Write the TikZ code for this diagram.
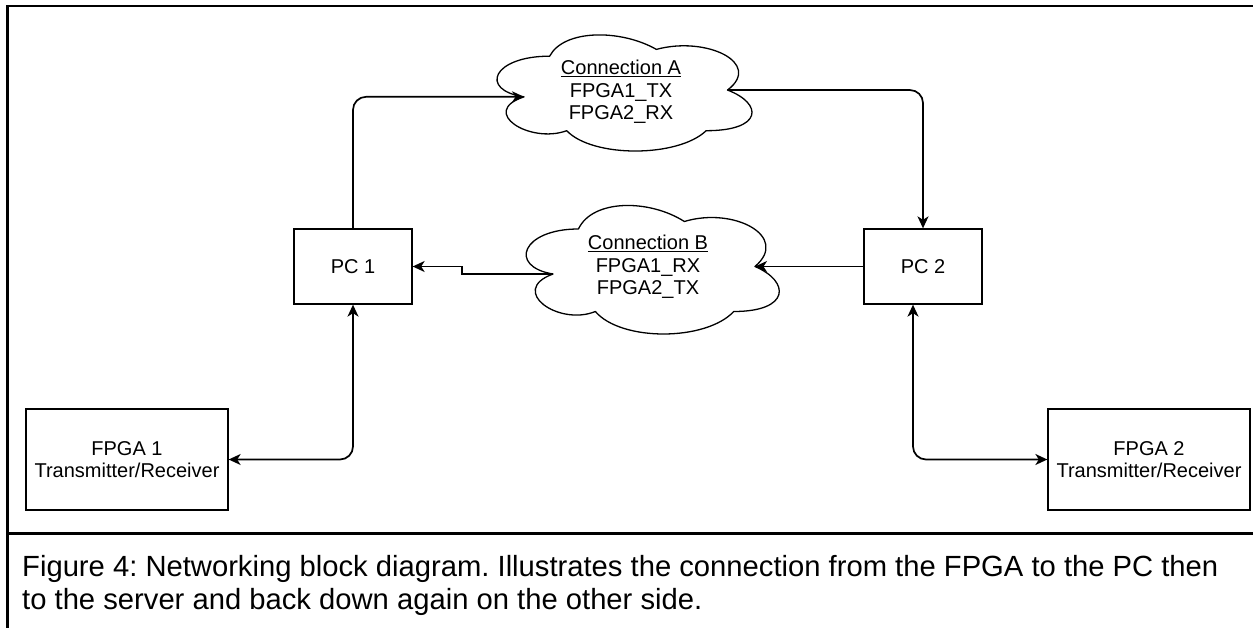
\documentclass[tikz,border=0pt]{standalone}
\usepackage{fontspec}
\setmainfont{Liberation Sans}
\usetikzlibrary{arrows.meta}

\begin{document}
\begin{tikzpicture}[x=1pt,y=-1pt,
  box/.style={draw, line width=1.3pt, inner sep=0pt, align=center,
    font=\fontsize{20}{22.5}\selectfont},
  pcbox/.style={box, minimum width=118pt, minimum height=75pt},
  fpgabox/.style={box, minimum width=202pt, minimum height=101pt},
  cloudtext/.style={inner sep=0pt, align=center,
    font=\fontsize{20}{22.5}\selectfont},
  tip/.tip={Stealth[length=12pt,width=11pt,inset=3.5pt]},
  link/.style={line width=1.7pt, rounded corners=13pt, -tip},
  duplex/.style={link, tip-tip},
  frame/.style={line width=2.5pt},
  % cloud outline in a unit box (x right, y down), scaled by the pic's options
  netcloud/.pic={
    \draw[line width=1.3pt, line join=round]
      (0.25,0.25) .. controls (0.05,0.25) and (0,0.5) .. (0.16,0.55)
      .. controls (0,0.66) and (0.18,0.9) .. (0.31,0.8)
      .. controls (0.4,1) and (0.7,1) .. (0.8,0.8)
      .. controls (1,0.8) and (1,0.6) .. (0.875,0.5)
      .. controls (1,0.3) and (0.8,0.1) .. (0.625,0.2)
      .. controls (0.5,0.05) and (0.3,0.05) .. (0.25,0.25) -- cycle;
    \coordinate (-w) at (0.16,0.55);
    \coordinate (-e) at (0.875,0.5);
  }]

\useasboundingbox (0,0) rectangle (1253,628);

% outer frame and caption divider
\draw[frame] (7.5,628) -- (7.5,6) -- (1253,6);
\draw[frame] (7.5,533.5) -- (1253,533.5);

% blocks
\node[pcbox] (pc1) at (353,266.5) {PC 1};
\node[pcbox] (pc2) at (923,266.5) {PC 2};
\node[fpgabox] (fpga1) at (127,459.5) {FPGA 1\\Transmitter/Receiver};
\node[fpgabox] (fpga2) at (1149,459.5) {FPGA 2\\Transmitter/Receiver};

% network connections
\pic (cA) [shift={(478.5,22.3)}, xscale=284.6, yscale=135.5] {netcloud};
\node[cloudtext] (conA) at (621,92) {\underline{Connection A}\\FPGA1\_TX\\FPGA2\_RX};
\pic (cB) [shift={(507.8,191.5)}, xscale=282.5, yscale=150] {netcloud};
\node[cloudtext] (conB) at (648,267) {\underline{Connection B}\\FPGA1\_RX\\FPGA2\_TX};

% connectors
\draw[link] (pc1.north) |- (cA-w);
\draw[link] (cA-e) -| (pc2.north);
\draw[link] (pc2.west) -- (cB-e);
\draw[link, rounded corners=0pt] (cB-w) -- ++(-91,0) |- (pc1.east);
\draw[duplex] (fpga1.east) -| (pc1.south);
\draw[duplex] ([xshift=-10pt]pc2.south) |- (fpga2.west);

% caption
\begin{scope}[every node/.style={anchor=base west, inner sep=0pt,
    font=\fontsize{29.2}{33}\selectfont\frenchspacing}]
\node (cap1) at (22,576)
  {Figure 4: Networking block diagram. Illustrates the connection from the FPGA to the PC then};
\node (cap2) at (22,609)
  {to the server and back down again on the other side.};
\end{scope}
\end{tikzpicture}
\end{document}
